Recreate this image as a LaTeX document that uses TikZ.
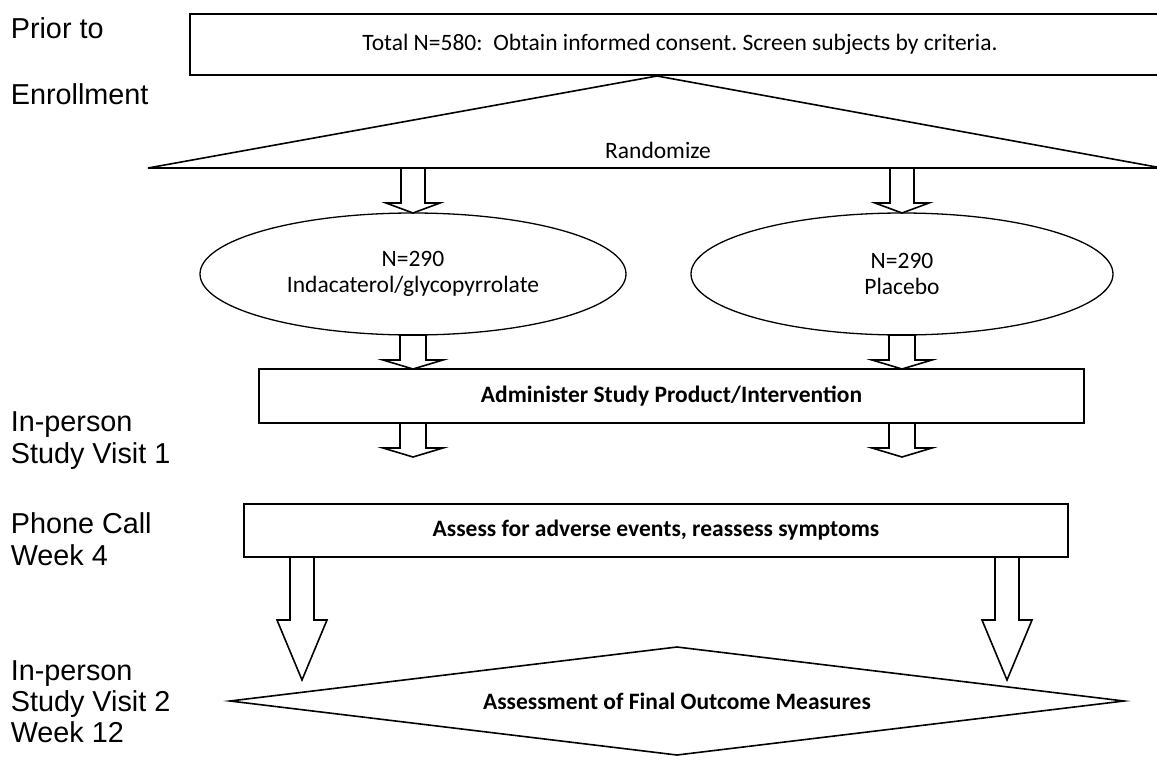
\documentclass[tikz,border=0pt]{standalone}
\usepackage{fontspec}
\setmainfont{Carlito}
\newfontfamily\arialfont{Liberation Sans}
\usetikzlibrary{shapes.geometric,calc}
\frenchspacing
\newcommand\txtfont{\fontsize{23.5}{26}\selectfont}
\newcommand\labfont{\arialfont\fontsize{28.8}{32}\selectfont}
\newcommand\barrow[5]{% #1 start, #2 tip, #3 head length, #4 shaft half, #5 head half
  \draw[blk] ($(#1)+(-#4,0)$) -- ($(#2)+(-#4,-#3)$) -- ($(#2)+(-#5,-#3)$) -- (#2)
     -- ($(#2)+(#5,-#3)$) -- ($(#2)+(#4,-#3)$) -- ($(#1)+(#4,0)$) -- cycle;}
\begin{document}
\begin{tikzpicture}[x=1pt,y=-1pt,line width=1.6pt,
  box/.style={draw, rectangle, inner sep=0pt, outer sep=0pt, font=\txtfont},
  ell/.style={draw, ellipse, line width=1.3pt, inner sep=0pt, outer sep=0pt, align=center, font=\txtfont},
  blk/.style={draw, fill=white, line width=1.6pt, line join=miter},
  lab/.style={anchor=base west, inner sep=0pt, font=\labfont},
  txt/.style={inner sep=0pt, font=\txtfont},
  btxt/.style={inner sep=0pt, font=\txtfont\bfseries}]
\useasboundingbox (0,0) rectangle (1157,766);
\fill[white] (0,0) rectangle (1157,766);

% left labels
\node[lab] (l1) at (10,38.5) {Prior to};
\node[lab] (l2) at (10,104) {Enrollment};
\node[lab] (l3) at (10,431) {In-person};
\node[lab] (l4) at (10,463) {Study Visit 1};
\node[lab] (l5) at (10,533) {Phone Call};
\node[lab] (l6) at (10,565) {Week 4};
\node[lab] (l7) at (10,680) {In-person};
\node[lab] (l8) at (10,711) {Study Visit 2};
\node[lab] (l9) at (10,742) {Week 12};

% top box
\node[box, minimum width=980pt, minimum height=61pt] (top) at (680,44.5) {Total N=580:\ \ Obtain informed consent. Screen subjects by criteria.};

% randomize triangle
\coordinate (apex) at (657,76);
\coordinate (tl) at (148,168);
\coordinate (tr) at (1162,168);
\draw[line join=miter] (apex) -- (tl) -- (tr) -- cycle;
\node[txt] (rand) at (658,150) {Randomize};

% ellipses
\node[ell, minimum width=426pt, minimum height=122pt] (ellL) at (413,274) {N=290\\Indacaterol/glycopyrrolate};
\node[ell, minimum width=422pt, minimum height=122pt] (ellR) at (902,274) {N=290\\Placebo};

% administer box
\node[box, minimum width=825pt, minimum height=54pt, font=\txtfont\bfseries] (admin) at (671.5,396) {Administer Study Product/Intervention};

% assess box
\node[box, minimum width=824pt, minimum height=53pt, font=\txtfont\bfseries] (assess) at (656,530.5) {Assess for adverse events, reassess symptoms};

% diamond
\coordinate (dl) at (230,701);
\coordinate (dt) at (677,647);
\coordinate (dr) at (1124,701);
\coordinate (db) at (677,755);
\draw[line join=miter] (dl) -- (dt) -- (dr) -- (db) -- cycle;
\node[btxt] (final) at (677,701) {Assessment of Final Outcome Measures};

% arrow end points
\coordinate (tb) at (657,168);
\coordinate (eL) at ($(ellL.south |- admin.south)+(0,34)$);
\coordinate (eR) at ($(ellR.south |- admin.south)+(0,34)$);
\coordinate (gL) at (302,680);
\coordinate (gR) at (1007,680);

\barrow{ellL.north |- tb}{ellL.north}{10}{12}{27}
\barrow{ellR.north |- tb}{ellR.north}{10}{12}{27}
\barrow{ellL.south}{ellL.south |- admin.north}{9}{13}{30}
\barrow{ellR.south}{ellR.south |- admin.north}{9}{13}{30}
\barrow{ellL.south |- admin.south}{eL}{9}{13}{30}
\barrow{ellR.south |- admin.south}{eR}{9}{13}{30}
\barrow{gL |- assess.south}{gL}{60}{12}{25}
\barrow{gR |- assess.south}{gR}{60}{12}{25}
\end{tikzpicture}
\end{document}
